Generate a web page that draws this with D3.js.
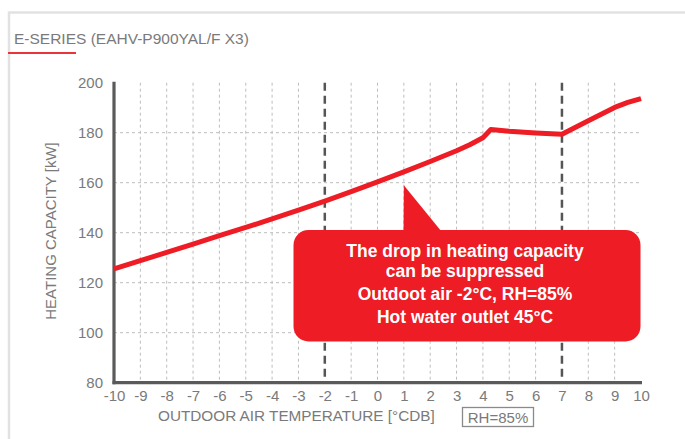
<!DOCTYPE html>
<html>
<head>
<meta charset="utf-8">
<script src="https://cdn.jsdelivr.net/npm/d3@7/dist/d3.min.js"></script>
<style>
  html, body { margin: 0; padding: 0; background: #fff; }
  svg { display: block; font-family: "Liberation Sans", Arial, sans-serif; }
</style>
</head>
<body>
<svg id="chart" width="685" height="439"></svg>
<script>
// Heating capacity [kW] versus outdoor air temperature [°CDB]
const temps = [-10, -9, -8, -7, -6, -5, -4, -3, -2, -1, 0, 1, 2, 3, 3.5, 4, 4.3, 5, 6, 7, 8, 9, 9.5, 10];
const capacity = [125.5, 128.8, 132.1, 135.4, 138.8, 142.1, 145.5, 149.0, 152.6, 156.4, 160.3, 164.3, 168.5, 172.8, 175.2, 178.0, 181.3, 180.6, 179.9, 179.4, 184.8, 190.1, 192.1, 193.6];
const xTicks = [-10, -9, -8, -7, -6, -5, -4, -3, -2, -1, 0, 1, 2, 3, 4, 5, 6, 7, 8, 9, 10];
const yTicks = [80, 100, 120, 140, 160, 180, 200];
const markerTemps = [-2, 7];
const calloutLines = [
  "The drop in heating capacity",
  "can be suppressed",
  "Outdoot air -2°C, RH=85%",
  "Hot water outlet 45°C"
];
const calloutAnchor = { t: 1, v: 160.6 };

const svg = d3.select("#chart");
const x = d3.scaleLinear().domain([-10, 10]).range([114, 641]);
const y = d3.scaleLinear().domain([80, 200]).range([382.7, 82.7]);

// panel frame
svg.append("path")
  .attr("d", "M9,439 V12.5 H685")
  .attr("fill", "none").attr("stroke", "#e2e2e2").attr("stroke-width", 2.5);

svg.append("text")
  .attr("x", 14).attr("y", 44)
  .attr("font-size", 15.5).attr("fill", "#7a7a7a")
  .text("E-SERIES (EAHV-P900YAL/F X3)");
svg.append("line")
  .attr("x1", 8).attr("x2", 76).attr("y1", 53).attr("y2", 53)
  .attr("stroke", "#e8343b").attr("stroke-width", 2);

// grid
const grid = svg.append("g").attr("stroke", "#bdbdbd").attr("stroke-width", 1).attr("stroke-dasharray", "3,3");
grid.selectAll("line.v")
  .data(xTicks.filter(t => t > -10 && t < 10 && !markerTemps.includes(t)))
  .join("line")
  .attr("x1", d => x(d)).attr("x2", d => x(d))
  .attr("y1", y(200)).attr("y2", y(80));
grid.selectAll("line.h")
  .data(yTicks.filter(t => t > 80 && t < 200))
  .join("line")
  .attr("x1", x(-10)).attr("x2", x(10))
  .attr("y1", d => y(d)).attr("y2", d => y(d));

// reference temperature markers
svg.append("g").selectAll("line")
  .data(markerTemps)
  .join("line")
  .attr("x1", d => x(d)).attr("x2", d => x(d))
  .attr("y1", y(200)).attr("y2", y(80))
  .attr("stroke", "#555").attr("stroke-width", 2.5).attr("stroke-dasharray", "8,5");

// axes
const xAxis = svg.append("g").attr("transform", `translate(0,${y(80)})`)
  .call(d3.axisBottom(x).tickValues(xTicks).tickFormat(d => String(d)).tickSize(0).tickPadding(8));
const yAxis = svg.append("g").attr("transform", `translate(${x(-10)},0)`)
  .call(d3.axisLeft(y).tickValues(yTicks).tickFormat(d => String(d)).tickSize(0).tickPadding(11));
[xAxis, yAxis].forEach(a => {
  a.select(".domain").attr("stroke", "#5a5a5a").attr("stroke-width", 3.2);
  a.selectAll("text").attr("font-size", 15).attr("fill", "#7a7a7a")
    .attr("font-family", "'Liberation Sans', Arial, sans-serif");
});
xAxis.select(".domain").attr("d", `M${x(-10) - 1.5},0H${x(10) + 1}`);
yAxis.select(".domain").attr("d", `M0,${y(200) - 1}V${y(80) + 1.5}`);

// axis titles
svg.append("text")
  .attr("x", 158).attr("y", 421)
  .attr("font-size", 15.3).attr("fill", "#7a7a7a")
  .text("OUTDOOR AIR TEMPERATURE [°CDB]");
svg.append("rect")
  .attr("x", 462.5).attr("y", 407.5).attr("width", 71).attr("height", 19)
  .attr("fill", "none").attr("stroke", "#8a8a8a").attr("stroke-width", 1.3);
svg.append("text")
  .attr("x", 498).attr("y", 422.5).attr("text-anchor", "middle")
  .attr("font-size", 15).attr("fill", "#7a7a7a")
  .text("RH=85%");
svg.append("text")
  .attr("transform", "translate(56,231) rotate(-90)")
  .attr("text-anchor", "middle")
  .attr("font-size", 15).attr("fill", "#7a7a7a")
  .text("HEATING CAPACITY [kW]");

// capacity curve
const line = d3.line().x((d, i) => x(temps[i])).y(d => y(d));
svg.append("path")
  .datum(capacity)
  .attr("d", line)
  .attr("fill", "none").attr("stroke", "#ee1c25")
  .attr("stroke-width", 5).attr("stroke-linejoin", "round");

// callout
const box = { x0: 293.5, x1: 640.5, y0: 230, y1: 341.5, r: 15 };
const tipX = x(calloutAnchor.t), tipY = y(calloutAnchor.v) + 4;
const callout = svg.append("g");
callout.append("path")
  .attr("d", `M${tipX},${tipY} L${box.x0 + 110},${box.y0 + 4} L${box.x0 + 150},${box.y0 + 4} Z`)
  .attr("fill", "#ee1c25");
callout.append("rect")
  .attr("x", box.x0).attr("y", box.y0)
  .attr("width", box.x1 - box.x0).attr("height", box.y1 - box.y0)
  .attr("rx", box.r).attr("ry", box.r)
  .attr("fill", "#ee1c25");
const lineY = [256.5, 276.5, 299.5, 323];
callout.selectAll("text")
  .data(calloutLines)
  .join("text")
  .attr("x", 465).attr("y", (d, i) => lineY[i])
  .attr("text-anchor", "middle")
  .attr("font-size", 17.5).attr("font-weight", "bold").attr("fill", "#fff")
  .text(d => d);
</script>
</body>
</html>
